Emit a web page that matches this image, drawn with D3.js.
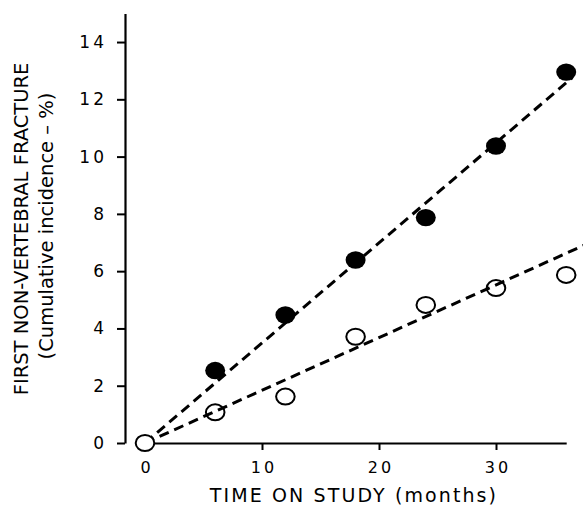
<!DOCTYPE html>
<html>
<head>
<meta charset="utf-8">
<script src="https://cdn.jsdelivr.net/npm/d3@7/dist/d3.min.js"></script>
<style>
  body { margin: 0; background: #fff; }
  svg { display: block; }
  text { font-family: "DejaVu Sans", Verdana, sans-serif; fill: #000; }
</style>
</head>
<body>
<svg id="chart" width="583" height="506"></svg>
<script>
// ---- data ----
const months = [0, 6, 12, 18, 24, 30, 36];
const filledValues = [null, 2.53, 4.47, 6.39, 7.87, 10.37, 12.95];
const openValues = [0, 1.07, 1.62, 3.71, 4.82, 5.41, 5.87];
const filledTrend = [[0, 0], [36.5, 12.75]];
const openTrend = [[0, 0], [37.5, 6.9]];
const xTicks = [0, 10, 20, 30];
const yTicks = [0, 2, 4, 6, 8, 10, 12, 14];
const xTitle = "TIME ON STUDY (months)";
const yTitle1 = "FIRST NON-VERTEBRAL FRACTURE";
const yTitle2 = "(Cumulative incidence \u2013 %)";

const svg = d3.select("#chart");
const x = d3.scaleLinear().domain([0, 36]).range([145, 566.2]);
const y = d3.scaleLinear().domain([0, 15]).range([443, 13.4]);

// y axis (offset to the left)
const yAxis = d3.axisLeft(y).tickValues(yTicks).tickSize(8).tickPadding(13).tickSizeOuter(0);
const gy = svg.append("g").attr("transform", "translate(125,0)").call(yAxis);
gy.select(".domain").attr("stroke", "#000").attr("stroke-width", 2.2);
gy.selectAll(".tick line").attr("stroke", "#000").attr("stroke-width", 2);
gy.selectAll(".tick text").style("font-size", "17px").style("letter-spacing", "3px").attr("dx", "3px");

// x axis
const xAxis = d3.axisBottom(x).tickValues(xTicks).tickSize(7).tickPadding(12).tickSizeOuter(0);
const gx = svg.append("g").attr("transform", "translate(0,443)").call(xAxis);
gx.select(".domain").attr("stroke", "#000").attr("stroke-width", 2.2);
gx.selectAll(".tick line").attr("stroke", "#000").attr("stroke-width", 2);
gx.selectAll(".tick text").style("font-size", "16px").style("letter-spacing", "3px").attr("dx", "1.5px");

// trend lines
const line = d3.line().x(d => x(d[0])).y(d => y(d[1]));
[filledTrend, openTrend].forEach(t => {
  svg.append("path").attr("d", line(t)).attr("fill", "none")
    .attr("stroke", "#000").attr("stroke-width", 3).attr("stroke-dasharray", "10,6");
});

// markers
const filledPts = months.map((m, i) => ({m, v: filledValues[i]})).filter(d => d.v !== null);
const openPts = months.map((m, i) => ({m, v: openValues[i]}));

svg.selectAll("ellipse.open").data(openPts).enter().append("ellipse")
  .attr("class", "open")
  .attr("cx", d => x(d.m)).attr("cy", d => y(d.v))
  .attr("rx", 9.3).attr("ry", 8)
  .attr("fill", (d, i) => i === 0 ? "#fff" : "none")
  .attr("stroke", "#000").attr("stroke-width", 2);

svg.selectAll("ellipse.filled").data(filledPts).enter().append("ellipse")
  .attr("class", "filled")
  .attr("cx", d => x(d.m)).attr("cy", d => y(d.v))
  .attr("rx", 10).attr("ry", 8.7)
  .attr("fill", "#000");

// titles
svg.append("text").attr("x", 354).attr("y", 502).attr("text-anchor", "middle")
  .style("font-size", "19px").style("letter-spacing", "2.1px").text(xTitle);

svg.append("text").attr("transform", "translate(28,229) rotate(-90)").attr("text-anchor", "middle")
  .style("font-size", "19.5px").text(yTitle1);
svg.append("text").attr("transform", "translate(53,226) rotate(-90)").attr("text-anchor", "middle")
  .style("font-size", "19.5px").text(yTitle2);
</script>
</body>
</html>
